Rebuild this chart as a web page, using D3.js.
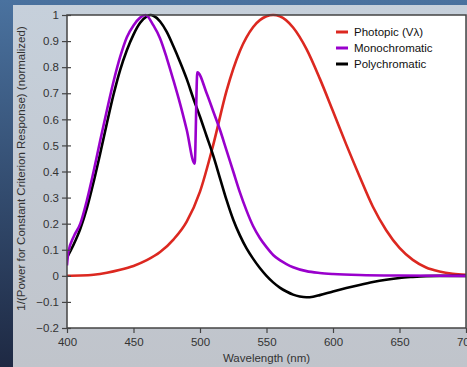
<!DOCTYPE html>
<html>
<head>
<meta charset="utf-8">
<script src="https://cdn.jsdelivr.net/npm/d3@7"></script>
<style>
  body { margin: 0; padding: 0; overflow: hidden; }
  svg { display: block; font-family: "Liberation Sans", Arial, sans-serif; }
</style>
</head>
<body>
<div id="chart-area"></div>
<script>
// wavelengths / values
var photopicWl = [400, 410, 420, 430, 440, 450, 460, 470, 480, 490, 500, 510, 520, 530, 540, 550, 555, 560, 570, 580, 590, 600, 610, 620, 630, 640, 650, 660, 670, 680, 690, 700];
var photopicVal = [0.0004, 0.0012, 0.004, 0.0116, 0.023, 0.038, 0.06, 0.091, 0.139, 0.208, 0.323, 0.503, 0.71, 0.862, 0.954, 0.995, 1.0, 0.995, 0.952, 0.87, 0.757, 0.631, 0.503, 0.381, 0.265, 0.175, 0.107, 0.061, 0.032, 0.017, 0.0082, 0.0041];

var monoWl = [400, 401, 405, 410, 415, 420, 425, 430, 435, 440, 445, 450, 455, 459, 465, 470, 475, 480, 485, 490, 496, 498, 505, 510, 515, 520, 525, 530, 535, 540, 545, 550, 555, 560, 565, 570, 580, 590, 600, 620, 650, 700];
var monoVal = [0.04, 0.09, 0.15, 0.20, 0.29, 0.40, 0.52, 0.635, 0.745, 0.84, 0.915, 0.96, 0.99, 1.0, 0.96, 0.91, 0.835, 0.75, 0.66, 0.56, 0.43, 0.78, 0.70, 0.63, 0.56, 0.48, 0.40, 0.32, 0.25, 0.19, 0.145, 0.11, 0.08, 0.06, 0.045, 0.033, 0.018, 0.011, 0.007, 0.003, 0.001, 0.0];

var polyWl = [400, 405, 410, 415, 420, 425, 430, 435, 440, 445, 450, 455, 460, 463, 465, 470, 475, 480, 485, 490, 495, 500, 505, 510, 515, 520, 525, 530, 535, 540, 545, 550, 555, 560, 565, 570, 575, 580, 585, 590, 600, 610, 620, 630, 640, 650, 660, 670, 680, 700];
var polyVal = [0.07, 0.12, 0.18, 0.26, 0.36, 0.47, 0.585, 0.695, 0.79, 0.865, 0.925, 0.97, 0.995, 1.0, 0.997, 0.975, 0.935, 0.88, 0.82, 0.755, 0.68, 0.61, 0.535, 0.46, 0.375, 0.29, 0.215, 0.155, 0.105, 0.065, 0.03, 0.0, -0.025, -0.045, -0.06, -0.072, -0.079, -0.082, -0.08, -0.074, -0.06, -0.047, -0.035, -0.024, -0.015, -0.008, -0.004, -0.001, 0, 0];

var seriesNames = ["Photopic (V\u03bb)", "Monochromatic", "Polychromatic"];
var seriesColors = ["#dc2820", "#9900cc", "#000000"];
var xTicks = [400, 450, 500, 550, 600, 650, 700];
var yTicks = [-0.2, -0.1, 0, 0.1, 0.2, 0.3, 0.4, 0.5, 0.6, 0.7, 0.8, 0.9, 1];

var width = 467, height = 367;
var plot = {left: 67, top: 15, right: 466, bottom: 328};

var svg = d3.select("#chart-area").append("svg")
    .attr("width", width)
    .attr("height", height);

var defs = svg.append("defs");
var bgGrad = defs.append("linearGradient").attr("id", "bg")
    .attr("x1", 0).attr("y1", 0).attr("x2", 0).attr("y2", 1);
bgGrad.append("stop").attr("offset", "0%").attr("stop-color", "#4a729f");
bgGrad.append("stop").attr("offset", "100%").attr("stop-color", "#1e2943");
var panelGrad = defs.append("linearGradient").attr("id", "panel")
    .attr("x1", 0).attr("y1", 0).attr("x2", 0).attr("y2", 1);
panelGrad.append("stop").attr("offset", "0%").attr("stop-color", "#c6d0db");
panelGrad.append("stop").attr("offset", "100%").attr("stop-color", "#c0c4cb");

svg.append("rect").attr("width", width).attr("height", height).attr("fill", "url(#bg)");
svg.append("rect").attr("x", 13).attr("y", 5).attr("width", width - 13).attr("height", height - 5)
    .attr("fill", "url(#panel)");

var x = d3.scaleLinear().domain([400, 700]).range([plot.left, plot.right]);
var y = d3.scaleLinear().domain([-0.2, 1]).range([plot.bottom, plot.top]);

svg.append("rect")
    .attr("x", plot.left).attr("y", plot.top)
    .attr("width", plot.right - plot.left).attr("height", plot.bottom - plot.top)
    .attr("fill", "white");

var clip = defs.append("clipPath").attr("id", "clip");
clip.append("rect").attr("x", plot.left).attr("y", plot.top - 2)
    .attr("width", plot.right - plot.left).attr("height", plot.bottom - plot.top + 2);

var line = d3.line()
    .x(function(d) { return x(d[0]); })
    .y(function(d) { return y(d[1]); })
    .curve(d3.curveMonotoneX);

var series = [
    d3.zip(photopicWl, photopicVal),
    d3.zip(monoWl, monoVal),
    d3.zip(polyWl, polyVal)
];

var g = svg.append("g").attr("clip-path", "url(#clip)");
// red first, then black, purple on top
[0, 2, 1].forEach(function(i) {
    g.append("path")
        .datum(series[i])
        .attr("d", line)
        .attr("fill", "none")
        .attr("stroke", seriesColors[i])
        .attr("stroke-width", 2.6)
        .attr("stroke-linejoin", "round");
});

// frame
svg.append("rect")
    .attr("x", plot.left).attr("y", plot.top)
    .attr("width", plot.right - plot.left).attr("height", plot.bottom - plot.top)
    .attr("fill", "none").attr("stroke", "#444").attr("stroke-width", 1.5);

var xAxis = svg.append("g")
    .attr("transform", "translate(0," + plot.bottom + ")")
    .call(d3.axisBottom(x).tickValues(xTicks).tickSize(5).tickSizeOuter(0).tickFormat(d3.format("d")));
var yAxis = svg.append("g")
    .attr("transform", "translate(" + plot.left + ",0)")
    .call(d3.axisLeft(y).tickValues(yTicks).tickSize(5).tickSizeOuter(0)
        .tickFormat(function(d) { return d === 0 ? "0" : (d === 1 ? "1" : d3.format(".1f")(d)); }));

[xAxis, yAxis].forEach(function(ax) {
    ax.select(".domain").remove();
    ax.selectAll("line").attr("stroke", "#444").attr("stroke-width", 1.2);
    ax.selectAll("text").attr("fill", "#333").style("font-size", "11.5px")
        .style("font-family", "Liberation Sans, Arial, sans-serif");
});
xAxis.selectAll("text").attr("dy", "0.9em");
yAxis.selectAll("line").clone().attr("x2", 0).attr("x1", 4);

svg.append("text")
    .attr("x", (plot.left + plot.right) / 2)
    .attr("y", 362)
    .attr("text-anchor", "middle")
    .attr("fill", "#333")
    .style("font-size", "11.5px")
    .text("Wavelength (nm)");

svg.append("text")
    .attr("transform", "translate(25," + ((plot.top + plot.bottom) / 2 - 3) + ") rotate(-90)")
    .attr("text-anchor", "middle")
    .attr("fill", "#333")
    .style("font-size", "11.5px")
    .text("1/(Power for Constant Criterion Response) (normalized)");

// legend
var legend = svg.append("g").attr("transform", "translate(336,32)");
seriesNames.forEach(function(name, i) {
    legend.append("line")
        .attr("x1", 0).attr("x2", 12)
        .attr("y1", i * 16).attr("y2", i * 16)
        .attr("stroke", seriesColors[i]).attr("stroke-width", 3);
    legend.append("text")
        .attr("x", 18).attr("y", i * 16).attr("dy", "0.35em")
        .attr("fill", "#111")
        .style("font-size", "11.5px")
        .text(name);
});
</script>
</body>
</html>
